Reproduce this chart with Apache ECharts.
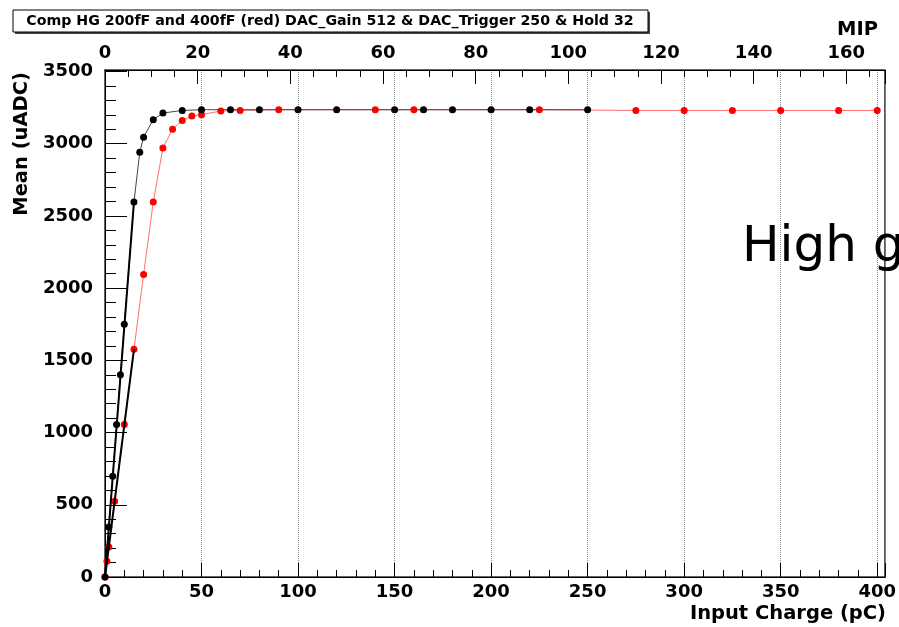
<!DOCTYPE html>
<html lang="en">
<head>
  <meta charset="UTF-8">
  <title>Comp HG 200fF and 400fF</title>
  <script src="https://cdn.jsdelivr.net/npm/echarts@6/dist/echarts.min.js"></script>
  <style>
    html, body { margin: 0; padding: 0; background: #fff; }
    #main { width: 899px; height: 627px; }
  </style>
</head>
<body>
<div id="main"></div>

<script>
  // 200fF (black)
  var blackCharge = [0, 2, 4, 6, 8, 10, 15, 18, 20, 25, 30, 40, 50, 65, 80, 100, 120, 150, 165, 180, 200, 220, 250];
  var blackMean = [0, 346, 697, 1055, 1401, 1749, 2596, 2940, 3045, 3166, 3212, 3230, 3235, 3235, 3235, 3235, 3235, 3235, 3235, 3235, 3235, 3235, 3235];
  // 400fF (red)
  var redCharge = [0, 1, 2, 5, 10, 15, 20, 25, 30, 35, 40, 45, 50, 60, 70, 90, 140, 160, 225, 275, 300, 325, 350, 380, 400];
  var redMean = [0, 109, 208, 524, 1055, 1576, 2095, 2596, 2970, 3099, 3161, 3191, 3201, 3226, 3230, 3235, 3235, 3235, 3235, 3230, 3230, 3230, 3230, 3230, 3230];
  // linear fits over the low range
  var fitBlackCharge = [0, 15];
  var fitBlackMean = [0, 2596];
  var fitRedCharge = [0, 15];
  var fitRedMean = [0, 1576];

  var pcPerMip = 2.4;
  var chargeMax = 404;
  var meanMax = 3510;

  function pairs(xs, ys) {
    var out = [];
    for (var i = 0; i < xs.length; i++) {
      out.push([xs[i], ys[i]]);
    }
    return out;
  }

  function plainNum(v) {
    return String(Math.round(v));
  }

  function chartInit() {
    var myChart = echarts.init(document.getElementById('main'));
    var labelFont = {
      fontFamily: 'DejaVu Sans',
      fontWeight: 'bold',
      fontSize: 18,
      color: '#000',
      formatter: plainNum
    };

    var option = {
      animation: false,
      backgroundColor: '#fff',
      grid: {
        left: 105,
        right: 13,
        top: 70,
        bottom: 50,
        show: true,
        borderColor: '#333',
        borderWidth: 1.5
      },
      xAxis: [
        {
          type: 'value',
          position: 'bottom',
          min: 0,
          max: chargeMax,
          interval: 50,
          axisLine: { lineStyle: { color: '#000', width: 1 } },
          axisTick: { inside: true, length: 14, lineStyle: { color: '#000' } },
          minorTick: { show: true, splitNumber: 5, length: 7, lineStyle: { color: '#000' } },
          axisLabel: Object.assign({ margin: 6, showMaxLabel: false }, labelFont),
          splitLine: { show: true, lineStyle: { color: '#888', type: 'dotted', width: 1 } }
        },
        {
          type: 'value',
          position: 'top',
          min: 0,
          max: chargeMax / pcPerMip,
          interval: 20,
          axisLine: { lineStyle: { color: '#000', width: 1 } },
          axisTick: { inside: true, length: 14, lineStyle: { color: '#000' } },
          minorTick: { show: true, splitNumber: 4, length: 7, lineStyle: { color: '#000' } },
          axisLabel: Object.assign({ margin: 8, showMaxLabel: false }, labelFont),
          splitLine: { show: false }
        }
      ],
      yAxis: {
        type: 'value',
        min: 0,
        max: meanMax,
        interval: 500,
        axisLine: { show: true, lineStyle: { color: '#000', width: 1 } },
        axisTick: { show: true, inside: true, length: 22, lineStyle: { color: '#000' } },
        minorTick: { show: true, splitNumber: 5, length: 11, lineStyle: { color: '#000' } },
        axisLabel: Object.assign({ margin: 12, showMaxLabel: false }, labelFont),
        splitLine: { show: false }
      },
      graphic: [
        {
          type: 'rect',
          shape: { x: 15, y: 12, width: 635, height: 22 },
          style: { fill: '#444' }
        },
        {
          type: 'rect',
          shape: { x: 13, y: 10, width: 635, height: 22 },
          style: { fill: '#fff', stroke: '#000', lineWidth: 1 }
        },
        {
          type: 'text',
          x: 330,
          y: 21,
          style: {
            text: 'Comp HG 200fF and 400fF (red) DAC_Gain 512 & DAC_Trigger 250 & Hold 32',
            fontFamily: 'DejaVu Sans',
            fontWeight: 'bold',
            fontSize: 14.2,
            fill: '#000',
            align: 'center',
            verticalAlign: 'middle'
          }
        },
        {
          type: 'text',
          x: 22,
          y: 72,
          rotation: Math.PI / 2,
          style: {
            text: 'Mean (uADC)',
            fontFamily: 'DejaVu Sans',
            fontWeight: 'bold',
            fontSize: 19.5,
            fill: '#000',
            align: 'right',
            verticalAlign: 'middle'
          }
        },
        {
          type: 'text',
          x: 886,
          y: 614,
          style: {
            text: 'Input Charge (pC)',
            fontFamily: 'DejaVu Sans',
            fontWeight: 'bold',
            fontSize: 19.5,
            fill: '#000',
            align: 'right',
            verticalAlign: 'middle'
          }
        },
        {
          type: 'text',
          x: 878,
          y: 30,
          style: {
            text: 'MIP',
            fontFamily: 'DejaVu Sans',
            fontWeight: 'bold',
            fontSize: 19.5,
            fill: '#000',
            align: 'right',
            verticalAlign: 'middle'
          }
        },
        {
          type: 'text',
          x: 742,
          y: 248,
          z: 100,
          style: {
            text: 'High g',
            fontFamily: 'DejaVu Sans',
            fontSize: 50,
            fill: '#000',
            align: 'left',
            verticalAlign: 'middle'
          }
        }
      ],
      series: [
        {
          name: '400fF',
          type: 'line',
          xAxisIndex: 0,
          data: pairs(redCharge, redMean),
          symbol: 'circle',
          symbolSize: 7,
          itemStyle: { color: '#ff0000' },
          lineStyle: { color: '#ff7070', width: 1 },
          z: 2
        },
        {
          name: '200fF',
          type: 'line',
          xAxisIndex: 0,
          data: pairs(blackCharge, blackMean),
          symbol: 'circle',
          symbolSize: 7,
          itemStyle: { color: '#000' },
          lineStyle: { color: '#444', width: 1 },
          z: 3
        },
        {
          name: 'fit 200fF',
          type: 'line',
          xAxisIndex: 0,
          data: pairs(fitBlackCharge, fitBlackMean),
          symbol: 'none',
          lineStyle: { color: '#000', width: 2 },
          z: 4
        },
        {
          name: 'fit 400fF',
          type: 'line',
          xAxisIndex: 0,
          data: pairs(fitRedCharge, fitRedMean),
          symbol: 'none',
          lineStyle: { color: '#000', width: 2 },
          z: 4
        }
      ]
    };
    myChart.setOption(option, true);
    window.addEventListener("resize", function () {
      myChart.resize();
    });
  }

  chartInit();
</script>
</body>
</html>
